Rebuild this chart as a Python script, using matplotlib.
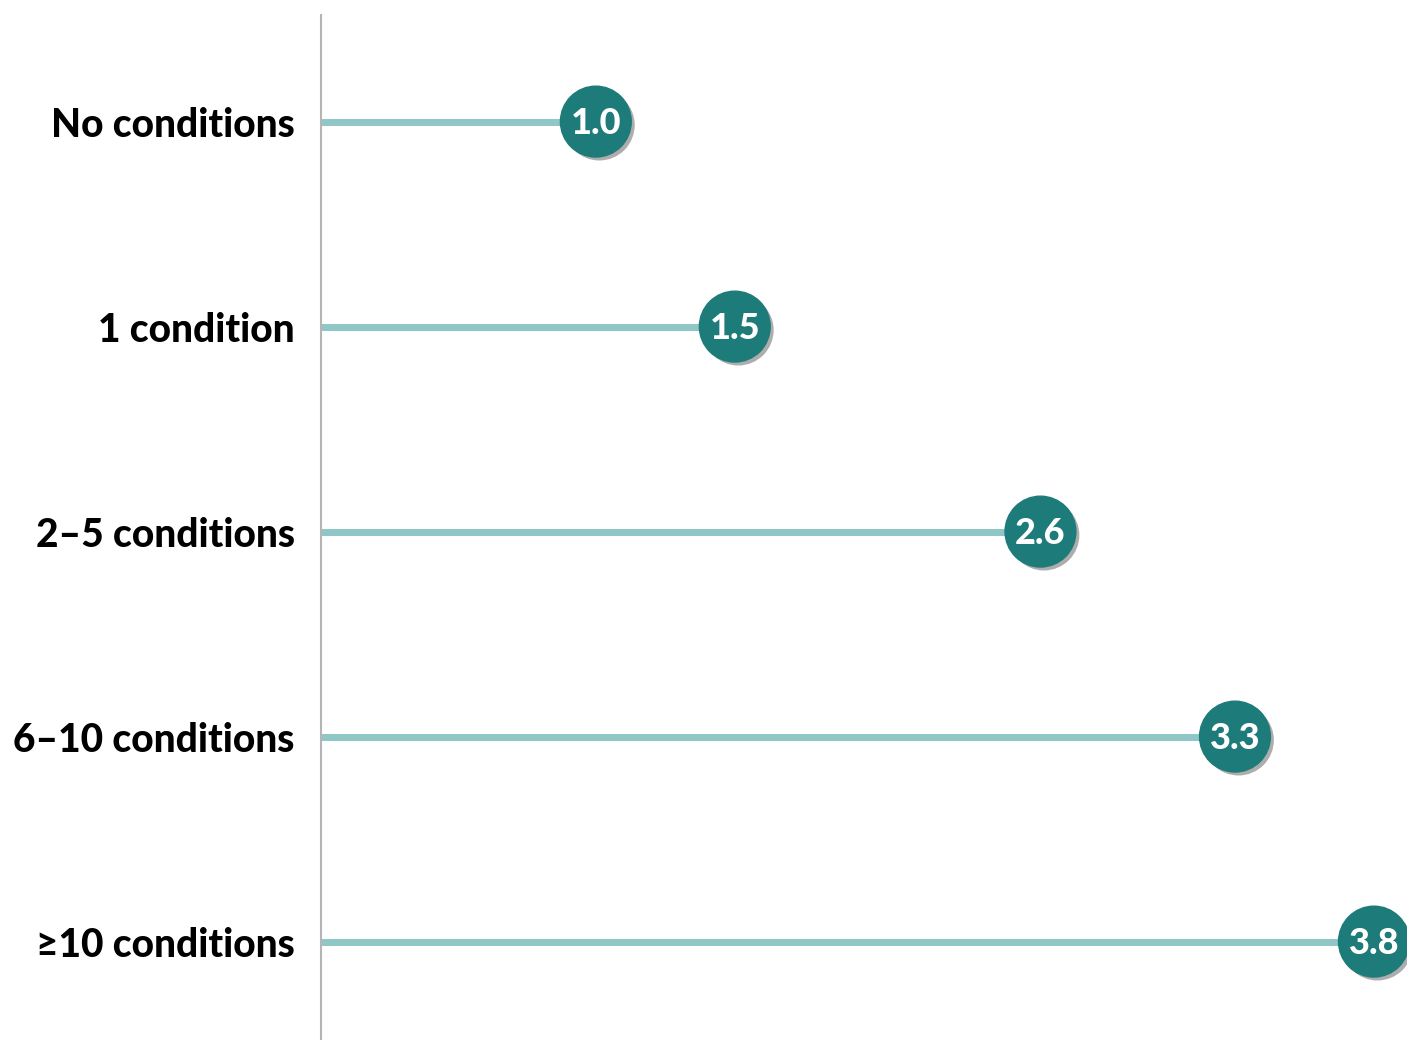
import matplotlib.pyplot as plt
import matplotlib.patheffects as pe
import numpy as np

plt.rcParams['font.family'] = ['Lato', 'DejaVu Sans']

categories = ['No conditions', '1 condition', '2\u20135 conditions', '6\u201310 conditions', '\u226510 conditions']
values = [1.0, 1.5, 2.6, 3.3, 3.8]
value_labels = ['1.0', '1.5', '2.6', '3.3', '3.8']

line_color = '#8fc6c6'
dot_color = '#1d7b7a'

fig = plt.figure(figsize=(14.07, 10.40), dpi=100)
ax = fig.add_axes([321/1407, 0, 1 - 321/1407, 1 - 15/1040])

ypos = np.arange(len(categories))
ax.hlines(ypos, 0, values, color=line_color, lw=5, zorder=1)
ax.scatter(values, ypos, s=51**2, color=dot_color, zorder=3, clip_on=False,
           path_effects=[pe.SimplePatchShadow(offset=(2.5, -2.5), shadow_rgbFace='#777777', alpha=0.6),
                         pe.Normal()])
for x, y, t in zip(values, ypos, value_labels):
    ax.text(x, y + 0.01, t, ha='center', va='center', color='white', fontsize=26,
            fontweight='black', zorder=4, clip_on=False)

ax.set_xlim(0.011, 3.919)
ax.set_ylim(len(categories) - 0.52, -0.52)
ax.set_yticks(ypos)
ax.set_yticklabels(categories, fontsize=28, fontweight='black')
ax.tick_params(axis='y', length=0, pad=19)
ax.set_xticks([])
for s in ['top', 'right', 'bottom']:
    ax.spines[s].set_visible(False)
ax.spines['left'].set_color('#b5b5b5')
ax.spines['left'].set_linewidth(1.5)

fig.savefig('out.png', dpi=100)
